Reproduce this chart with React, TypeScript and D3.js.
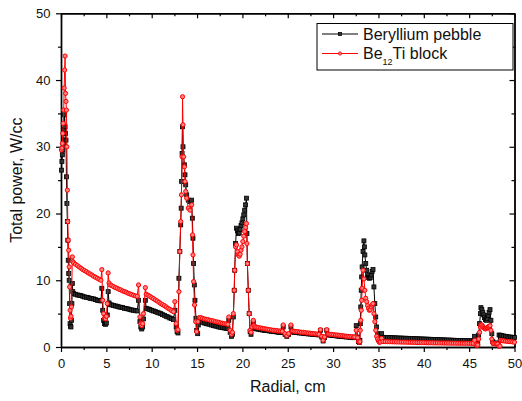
import React, { useEffect, useRef } from "react";
import * as d3 from "d3";

// Beryllium pebble (black squares)
const pebble: [number, number][] = [
  [0.05,26.5],[0.1,27.8],[0.15,28.8],[0.2,29.5],[0.25,30.2],[0.3,31.0],[0.35,32.6],[0.4,34.8],[0.45,33.0],[0.5,32.0],[0.55,31.0],[0.6,25.5],[0.65,21.5],[0.7,18.8],[0.75,16.0],[0.8,13.0],[0.85,11.0],[0.9,10.0],[0.95,6.5],[1.0,3.5],[1.05,3.1],[1.1,3.0],[1.15,4.0],[1.2,6.5],[1.25,9.5],[1.3,8.3],
  [1.4,8.0],[1.6,7.9],[1.8,7.8],[2.0,7.75],[2.2,7.7],[2.4,7.6],[2.6,7.5],[2.8,7.45],[3.0,7.4],[3.2,7.3],[3.4,7.25],[3.6,7.2],[3.8,7.1],[4.0,7.0],[4.2,6.95],[4.4,6.9],
  [4.5,8.8],[4.6,5.5],[4.7,4.0],[4.8,3.5],[4.9,3.4],[5.0,3.6],[5.1,4.8],[5.2,8.3],[5.3,6.6],
  [5.4,6.35],[5.6,6.3],[5.8,6.2],[6.0,6.15],[6.2,6.1],[6.4,6.0],[6.6,5.95],[6.8,5.9],[7.0,5.8],[7.2,5.75],[7.4,5.7],[7.6,5.6],[7.8,5.55],[8.0,5.5],[8.2,5.45],[8.4,5.4],
  [8.55,7.0],[8.7,3.8],[8.8,3.0],[8.9,2.7],[9.0,3.0],[9.1,4.2],[9.3,7.0],
  [9.4,5.8],[9.6,5.7],[9.8,5.6],[10.0,5.5],[10.2,5.4],[10.4,5.3],[10.6,5.2],[10.8,5.1],[11.0,5.0],[11.2,4.85],[11.4,4.75],[11.6,4.6],[11.8,4.5],[12.0,4.35],[12.2,4.25],[12.4,4.1],
  [12.55,5.5],[12.7,3.0],[12.8,2.3],[12.9,2.1],[13.0,10.3],[13.1,14.3],[13.2,18.3],[13.25,20.8],[13.3,24.8],[13.35,29.0],[13.4,33.0],[13.45,30.0],[13.6,27.3],[13.67,25.8],[13.75,24.3],[13.86,22.8],[14.03,22.0],[14.22,21.8],[14.4,22.0],[14.48,19.3],[14.55,16.3],[14.62,12.5],[14.7,9.3],[14.77,7.0],[14.88,4.3],[14.96,2.5],[15.07,2.0],[15.14,3.3],[15.25,4.0],
  [15.4,3.8],[15.6,3.7],[15.8,3.6],[16.0,3.5],[16.2,3.45],[16.4,3.4],[16.6,3.3],[16.8,3.2],[17.0,3.15],[17.2,3.1],[17.4,3.0],[17.6,2.95],[17.8,2.9],[18.0,2.85],[18.2,2.8],
  [18.4,2.75],[18.5,4.0],[18.65,2.2],[18.8,1.6],[18.9,1.9],[19.0,4.5],[19.1,8.5],[19.15,11.5],[19.25,15.5],[19.35,17.8],[19.45,17.4],[19.55,17.0],[19.65,17.1],[19.75,17.6],[19.85,18.2],[19.95,18.6],[20.05,19.2],[20.15,19.8],[20.25,20.5],[20.35,21.3],[20.45,22.3],[20.5,17.0],[20.55,12.5],[20.65,8.5],[20.75,5.0],[20.85,2.3],[20.95,1.9],[21.05,2.8],[21.2,3.7],[21.3,3.0],
  [21.4,2.75],[21.6,2.7],[21.8,2.65],[22.0,2.6],[22.2,2.55],[22.4,2.5],[22.6,2.5],[22.8,2.45],[23.0,2.4],[23.2,2.35],[23.4,2.3],[23.6,2.3],[23.8,2.25],[24.0,2.2],[24.2,2.2],[24.4,2.15],
  [24.5,3.0],[24.7,1.9],[24.9,1.6],[25.1,1.9],[25.35,3.0],
  [25.5,2.25],[25.7,2.2],[25.9,2.2],[26.1,2.15],[26.3,2.1],[26.5,2.1],[26.7,2.05],[26.9,2.0],[27.1,2.0],[27.3,1.95],[27.5,1.95],[27.7,1.9],[27.9,1.9],[28.1,1.85],[28.3,1.85],[28.45,1.8],
  [28.6,2.5],[28.75,1.5],[28.9,0.9],[29.05,1.4],[29.3,2.5],
  [29.45,1.8],[29.65,1.8],[29.85,1.75],[30.05,1.7],[30.25,1.7],[30.45,1.65],[30.65,1.6],[30.85,1.6],[31.05,1.55],[31.25,1.55],[31.45,1.5],[31.65,1.5],[31.85,1.45],[32.05,1.45],[32.25,1.4],[32.4,1.4],
  [32.55,3.2],[32.7,1.5],[32.8,0.8],[32.9,0.7],
  [32.95,1.0],[33.0,3.5],[33.05,6.0],[33.1,8.5],[33.15,10.5],[33.2,12.0],[33.3,14.3],[33.4,15.9],[33.45,15.0],[33.5,13.8],[33.6,12.5],[33.7,11.5],[33.8,10.8],[33.9,10.4],[34.0,10.3],[34.1,10.4],[34.2,10.8],[34.3,11.3],[34.4,11.6],[34.5,9.0],[34.6,6.5],[34.7,4.5],[34.8,3.0],[34.9,2.0],[35.0,1.6],[35.1,1.3],[35.2,1.2],[35.35,2.0],
  [35.5,1.45],[35.75,1.44],[36.0,1.42],[36.25,1.41],[36.5,1.4],[36.75,1.38],[37.0,1.37],[37.25,1.35],[37.5,1.34],[37.75,1.32],[38.0,1.31],[38.25,1.3],[38.5,1.28],[38.75,1.27],[39.0,1.25],[39.25,1.24],[39.5,1.22],[39.75,1.21],[40.0,1.2],[40.25,1.18],[40.5,1.17],[40.75,1.15],[41.0,1.14],[41.25,1.12],[41.5,1.11],[41.75,1.1],[42.0,1.08],[42.25,1.07],[42.5,1.05],[42.75,1.04],[43.0,1.03],[43.25,1.01],[43.5,1.0],[43.75,0.99],[44.0,0.98],[44.25,0.97],[44.5,0.96],[44.75,0.95],[45.0,0.94],[45.25,0.93],[45.45,0.92],
  [45.6,1.6],[45.75,0.6],[45.85,0.35],[45.95,0.5],[46.05,1.8],[46.15,3.5],[46.25,5.0],[46.3,5.9],[46.4,5.6],[46.5,5.2],[46.6,4.8],[46.7,4.4],[46.8,4.1],[46.9,4.0],[47.0,4.3],[47.1,4.7],[47.2,5.2],[47.3,5.6],[47.4,4.0],[47.5,2.0],[47.6,0.8],[47.7,0.6],[47.85,0.55],[48.0,0.55],[48.15,0.6],[48.3,1.8],
  [48.45,1.75],[48.6,1.7],[48.8,1.65],[49.0,1.6],[49.2,1.55],[49.4,1.5],[49.6,1.48],[49.8,1.45],[50.0,1.42],
];

// Be12Ti block (red circles)
const block: [number, number][] = [
  [0.05,29.5],[0.1,29.8],[0.15,30.5],[0.2,32.0],[0.25,33.5],[0.3,35.5],[0.35,38.8],[0.4,41.5],[0.45,43.6],[0.5,38.0],[0.55,36.8],[0.6,35.5],[0.65,30.0],[0.7,23.5],[0.75,18.8],[0.8,16.0],[0.85,14.5],[0.9,12.0],[0.95,9.0],[1.0,5.5],[1.05,4.3],[1.1,4.6],[1.15,6.0],[1.25,13.5],[1.3,12.8],
  [1.4,12.6],[1.6,12.4],[1.8,12.2],[2.0,12.0],[2.2,11.8],[2.4,11.6],[2.6,11.45],[2.8,11.3],[3.0,11.1],[3.2,10.95],[3.4,10.8],[3.6,10.6],[3.8,10.45],[4.0,10.3],[4.2,10.15],[4.4,10.0],
  [4.5,11.6],[4.6,7.0],[4.7,5.0],[4.8,4.3],[4.9,4.2],[5.0,4.6],[5.1,6.5],[5.2,11.1],[5.3,9.6],
  [5.4,9.3],[5.6,9.2],[5.8,9.05],[6.0,8.9],[6.2,8.8],[6.4,8.65],[6.6,8.55],[6.8,8.4],[7.0,8.3],[7.2,8.2],[7.4,8.05],[7.6,7.95],[7.8,7.85],[8.0,7.75],[8.2,7.65],[8.4,7.6],
  [8.55,9.3],[8.7,4.5],[8.8,3.5],[8.9,3.2],[9.0,3.5],[9.1,5.0],[9.3,8.9],
  [9.4,7.9],[9.6,7.75],[9.8,7.6],[10.0,7.4],[10.2,7.25],[10.4,7.05],[10.6,6.9],[10.8,6.7],[11.0,6.5],[11.2,6.35],[11.4,6.2],[11.6,6.0],[11.8,5.8],[12.0,5.65],[12.2,5.45],[12.4,5.3],
  [12.55,6.8],[12.7,3.5],[12.8,2.5],[12.9,2.6],[13.0,8.3],[13.1,14.3],[13.2,18.8],[13.28,22.8],[13.35,28.5],[13.4,37.5],[13.45,33.3],[13.52,28.5],[13.6,27.0],[13.67,24.8],[13.75,23.3],[13.86,22.3],[14.03,20.8],[14.22,20.5],[14.41,21.3],[14.5,16.8],[14.55,13.8],[14.62,9.8],[14.72,6.3],[14.85,3.8],[14.95,2.3],[15.1,3.8],[15.25,4.4],
  [15.4,4.4],[15.6,4.3],[15.8,4.2],[16.0,4.15],[16.2,4.1],[16.4,4.0],[16.6,3.95],[16.8,3.9],[17.0,3.8],[17.2,3.75],[17.4,3.7],[17.6,3.6],[17.8,3.55],[18.0,3.5],[18.2,3.45],
  [18.4,3.4],[18.5,4.5],[18.65,2.5],[18.8,1.9],[18.9,2.2],[19.0,5.0],[19.1,8.5],[19.15,11.5],[19.25,15.0],[19.35,15.3],[19.45,14.3],[19.55,13.8],[19.65,13.6],[19.75,13.9],[19.85,14.5],[19.95,15.0],[20.05,15.8],[20.15,16.6],[20.25,17.3],[20.35,17.9],[20.45,18.5],[20.5,15.5],[20.55,12.5],[20.65,8.5],[20.75,5.0],[20.85,2.5],[20.95,2.2],[21.05,3.0],[21.2,4.0],[21.3,3.2],
  [21.4,3.0],[21.6,2.95],[21.8,2.9],[22.0,2.85],[22.2,2.8],[22.4,2.75],[22.6,2.7],[22.8,2.65],[23.0,2.6],[23.2,2.55],[23.4,2.5],[23.6,2.5],[23.8,2.45],[24.0,2.4],[24.2,2.4],[24.4,2.35],
  [24.5,3.3],[24.7,2.0],[24.9,1.7],[25.1,2.0],[25.35,3.3],
  [25.5,2.4],[25.7,2.35],[25.9,2.3],[26.1,2.3],[26.3,2.25],[26.5,2.2],[26.7,2.2],[26.9,2.15],[27.1,2.1],[27.3,2.1],[27.5,2.05],[27.7,2.0],[27.9,2.0],[28.1,1.95],[28.3,1.95],[28.45,1.9],
  [28.6,2.6],[28.75,1.6],[28.9,1.0],[29.05,1.5],[29.3,2.6],
  [29.45,1.95],[29.65,1.9],[29.85,1.9],[30.05,1.85],[30.25,1.8],[30.45,1.8],[30.65,1.75],[30.85,1.7],[31.05,1.7],[31.25,1.65],[31.45,1.6],[31.65,1.6],[31.85,1.55],[32.05,1.55],[32.25,1.5],[32.4,1.5],
  [32.55,2.5],[32.7,1.4],[32.8,0.8],[32.9,0.7],
  [32.95,0.8],[33.0,2.5],[33.05,4.0],[33.1,5.5],[33.15,7.0],[33.2,8.8],[33.3,11.5],[33.4,10.2],[33.5,8.5],[33.6,7.3],[33.7,6.8],[33.8,6.2],[33.9,5.8],[34.0,5.5],[34.1,5.6],[34.2,6.0],[34.3,6.3],[34.4,6.5],[34.5,5.0],[34.6,3.8],[34.7,2.5],[34.8,1.6],[34.9,1.2],[35.0,0.9],[35.1,0.7],[35.2,0.75],[35.35,1.3],
  [35.5,0.82],[35.75,0.81],[36.0,0.8],[36.25,0.79],[36.5,0.78],[36.75,0.77],[37.0,0.76],[37.25,0.75],[37.5,0.74],[37.75,0.73],[38.0,0.72],[38.25,0.71],[38.5,0.7],[38.75,0.69],[39.0,0.68],[39.25,0.67],[39.5,0.66],[39.75,0.66],[40.0,0.65],[40.25,0.64],[40.5,0.63],[40.75,0.63],[41.0,0.62],[41.25,0.61],[41.5,0.61],[41.75,0.6],[42.0,0.6],[42.25,0.59],[42.5,0.59],[42.75,0.58],[43.0,0.58],[43.25,0.57],[43.5,0.57],[43.75,0.56],[44.0,0.56],[44.25,0.56],[44.5,0.55],[44.75,0.55],[45.0,0.55],[45.25,0.54],[45.45,0.54],
  [45.6,1.0],[45.75,0.4],[45.85,0.2],[45.95,0.3],[46.05,1.2],[46.15,2.2],[46.25,3.0],[46.3,3.3],[46.4,3.3],[46.5,3.1],[46.6,2.9],[46.7,2.8],[46.8,2.7],[46.9,2.8],[47.0,2.9],[47.1,3.0],[47.2,3.1],[47.3,3.2],[47.4,2.5],[47.5,1.2],[47.6,0.6],[47.7,0.5],[47.85,0.48],[48.0,0.46],[48.15,0.45],[48.3,0.1],[48.4,0.15],[48.5,1.0],
  [48.65,0.95],[48.8,0.92],[49.0,0.88],[49.2,0.85],[49.4,0.82],[49.6,0.8],[49.8,0.76],[50.0,0.72],
];

const xMajor = [0, 5, 10, 15, 20, 25, 30, 35, 40, 45, 50];
const xMinor = [2.5, 7.5, 12.5, 17.5, 22.5, 27.5, 32.5, 37.5, 42.5, 47.5];
const yMajor = [0, 10, 20, 30, 40, 50];
const yMinor = [5, 15, 25, 35, 45];

const FONT = "'Liberation Sans', Arial, sans-serif";

export default function App() {
  const ref = useRef<SVGSVGElement>(null);

  useEffect(() => {
    const width = 522;
    const height = 401;
    const margin = { top: 13.3, right: 7.5, bottom: 54, left: 61 };

    const svg = d3.select(ref.current);
    svg.selectAll("*").remove();

    const x = d3.scaleLinear().domain([0, 50]).range([margin.left, width - margin.right]);
    const y = d3.scaleLinear().domain([0, 50]).range([height - margin.bottom, margin.top]);

    const axisStyle = (g: any) => {
      g.select(".domain").attr("stroke", "#000").attr("stroke-width", 1.4);
      g.selectAll(".tick line").attr("stroke", "#000").attr("stroke-width", 1.2);
      g.selectAll(".tick text").attr("fill", "#111").style("font-family", FONT).style("font-size", "13px");
    };

    // bottom axis
    svg.append("g").attr("transform", `translate(0,${y(0)})`)
      .call(d3.axisBottom(x).tickValues(xMajor).tickSize(5).tickSizeOuter(0).tickPadding(6.5).tickFormat(d3.format("d")))
      .call(axisStyle);
    svg.append("g").attr("transform", `translate(0,${y(0)})`)
      .call(d3.axisBottom(x).tickValues(xMinor).tickSize(3).tickSizeOuter(0).tickFormat(() => ""))
      .call(axisStyle);
    // top axis, ticks inward
    svg.append("g").attr("transform", `translate(0,${y(50)})`)
      .call(d3.axisTop(x).tickValues(xMajor).tickSize(-5).tickSizeOuter(0).tickFormat(() => ""))
      .call(axisStyle);
    svg.append("g").attr("transform", `translate(0,${y(50)})`)
      .call(d3.axisTop(x).tickValues(xMinor).tickSize(-3).tickSizeOuter(0).tickFormat(() => ""))
      .call(axisStyle);
    // left axis
    svg.append("g").attr("transform", `translate(${x(0)},0)`)
      .call(d3.axisLeft(y).tickValues(yMajor).tickSize(5).tickSizeOuter(0).tickPadding(5.5).tickFormat(d3.format("d")))
      .call(axisStyle);
    svg.append("g").attr("transform", `translate(${x(0)},0)`)
      .call(d3.axisLeft(y).tickValues(yMinor).tickSize(3).tickSizeOuter(0).tickFormat(() => ""))
      .call(axisStyle);
    // right axis, ticks inward
    svg.append("g").attr("transform", `translate(${x(50)},0)`)
      .call(d3.axisRight(y).tickValues(yMajor).tickSize(-5).tickSizeOuter(0).tickFormat(() => ""))
      .call(axisStyle);
    svg.append("g").attr("transform", `translate(${x(50)},0)`)
      .call(d3.axisRight(y).tickValues(yMinor).tickSize(-3).tickSizeOuter(0).tickFormat(() => ""))
      .call(axisStyle);

    // axis titles
    svg.append("text")
      .attr("x", (x(0) + x(50)) / 2).attr("y", 392)
      .attr("text-anchor", "middle")
      .style("font-family", FONT).style("font-size", "16px").attr("fill", "#111")
      .text("Radial, cm");
    svg.append("text")
      .attr("transform", `translate(22,${(y(0) + y(50)) / 2}) rotate(-90)`)
      .attr("text-anchor", "middle")
      .style("font-family", FONT).style("font-size", "16px").attr("fill", "#111")
      .text("Total power, W/cc");

    const line = d3.line<[number, number]>().x(d => x(d[0])).y(d => y(d[1]));

    // pebble series
    svg.append("path").datum(pebble)
      .attr("d", line).attr("fill", "none").attr("stroke", "#000").attr("stroke-width", 1);
    svg.append("g").selectAll("rect").data(pebble).join("rect")
      .attr("x", d => x(d[0]) - 2).attr("y", d => y(d[1]) - 2)
      .attr("width", 4).attr("height", 4)
      .attr("fill", "#333").attr("stroke", "#000").attr("stroke-width", 0.8);

    // block series
    svg.append("path").datum(block)
      .attr("d", line).attr("fill", "none").attr("stroke", "#ff0000").attr("stroke-width", 1);
    svg.append("g").selectAll("circle").data(block).join("circle")
      .attr("cx", d => x(d[0])).attr("cy", d => y(d[1])).attr("r", 2.1)
      .attr("fill", "#ff8080").attr("stroke", "#ff0000").attr("stroke-width", 1);

    // legend
    const lg = svg.append("g");
    lg.append("rect").attr("x", 317).attr("y", 23.5).attr("width", 196).attr("height", 46.5)
      .attr("fill", "#fff").attr("stroke", "#000").attr("stroke-width", 1);
    lg.append("line").attr("x1", 322).attr("x2", 358).attr("y1", 34).attr("y2", 34).attr("stroke", "#000").attr("stroke-width", 1);
    lg.append("rect").attr("x", 338.5).attr("y", 32.5).attr("width", 3).attr("height", 3).attr("fill", "#333").attr("stroke", "#000").attr("stroke-width", 0.8);
    lg.append("line").attr("x1", 322).attr("x2", 358).attr("y1", 53.5).attr("y2", 53.5).attr("stroke", "#ff0000").attr("stroke-width", 1);
    lg.append("circle").attr("cx", 340).attr("cy", 53.5).attr("r", 1.6).attr("fill", "#ff8080").attr("stroke", "#ff0000").attr("stroke-width", 0.9);
    lg.append("text").attr("x", 363).attr("y", 39.5)
      .style("font-family", FONT).style("font-size", "16px").attr("fill", "#111")
      .text("Beryllium pebble");
    const t2 = lg.append("text").attr("x", 363).attr("y", 59)
      .style("font-family", FONT).style("font-size", "16px").attr("fill", "#111");
    t2.append("tspan").text("Be");
    t2.append("tspan").attr("dy", 6).style("font-size", "9px").text("12");
    t2.append("tspan").attr("dy", -6).text("Ti block");
  }, []);

  return (
    <svg ref={ref} width={522} height={401}
      style={{ position: "absolute", left: 0, top: 0, background: "#fff" }} />
  );
}
